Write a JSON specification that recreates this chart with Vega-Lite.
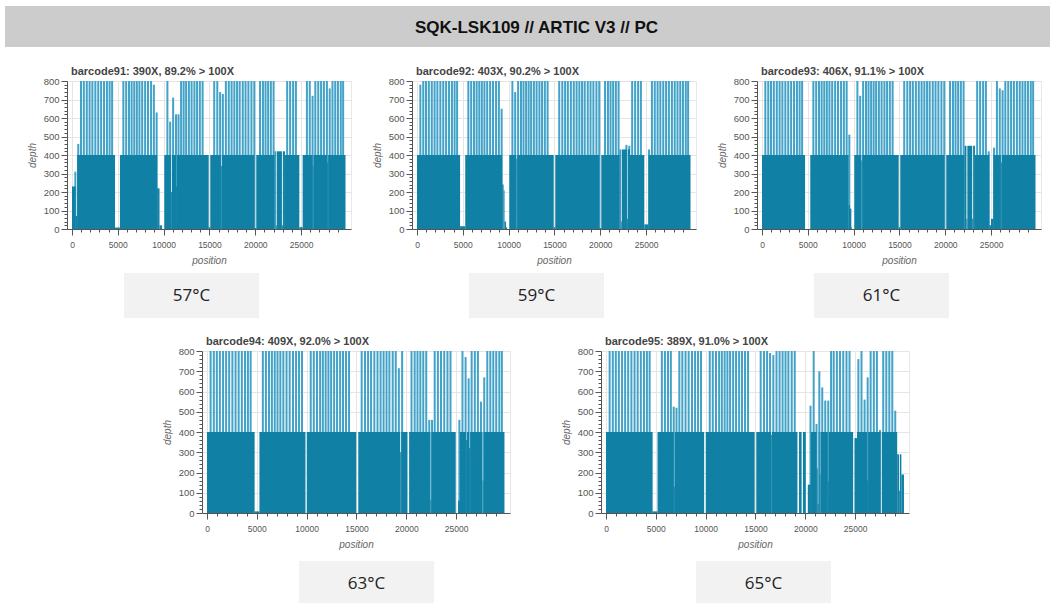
{
  "$schema": "https://vega.github.io/schema/vega-lite/v6.json",
  "padding": {"left": 5, "top": 6, "right": 5, "bottom": 0},
  "background": "white",
  "bounds": "flush",
  "spacing": 0,
  "datasets": {
    "seg": [
      {"p":1,"a":0,"b":400,"d":230},{"p":1,"a":400,"b":560,"d":70},{"p":1,"a":560,"b":4700,"d":400},{"p":1,"a":4700,"b":5230,"d":8},
      {"p":1,"a":5230,"b":9300,"d":400},{"p":1,"a":9300,"b":9550,"d":220},{"p":1,"a":9550,"b":9830,"d":20},{"p":1,"a":10070,"b":10800,"d":400},
      {"p":1,"a":10800,"b":10900,"d":200},{"p":1,"a":10900,"b":11360,"d":400},{"p":1,"a":11360,"b":11460,"d":230},{"p":1,"a":11460,"b":14920,"d":400},
      {"p":1,"a":14920,"b":15090,"d":10},{"p":1,"a":15090,"b":16250,"d":400},{"p":1,"a":16250,"b":16350,"d":340},{"p":1,"a":16350,"b":19900,"d":400},
      {"p":1,"a":19900,"b":20110,"d":5},{"p":1,"a":20110,"b":22110,"d":400},{"p":1,"a":22110,"b":22240,"d":420},{"p":1,"a":22240,"b":22340,"d":20},
      {"p":1,"a":22340,"b":22910,"d":420},{"p":1,"a":22910,"b":23010,"d":20},{"p":1,"a":23010,"b":23240,"d":420},{"p":1,"a":23240,"b":24810,"d":400},
      {"p":1,"a":24810,"b":25170,"d":10},{"p":1,"a":25170,"b":26250,"d":400},{"p":1,"a":26250,"b":26350,"d":340},{"p":1,"a":26350,"b":27850,"d":400},
      {"p":1,"a":27850,"b":27950,"d":360},{"p":1,"a":27950,"b":29850,"d":400},

      {"p":2,"a":0,"b":4700,"d":400},{"p":2,"a":4700,"b":5265,"d":15},{"p":2,"a":5265,"b":9300,"d":400},{"p":2,"a":9300,"b":9450,"d":240},
      {"p":2,"a":9450,"b":9550,"d":210},{"p":2,"a":9550,"b":9720,"d":40},{"p":2,"a":9720,"b":9830,"d":10},{"p":2,"a":10070,"b":10840,"d":400},
      {"p":2,"a":10840,"b":10940,"d":380},{"p":2,"a":10940,"b":14920,"d":400},{"p":2,"a":14920,"b":15090,"d":10},{"p":2,"a":15090,"b":19900,"d":400},
      {"p":2,"a":19900,"b":20110,"d":5},{"p":2,"a":20110,"b":22110,"d":400},{"p":2,"a":22110,"b":22240,"d":430},{"p":2,"a":22240,"b":22340,"d":40},
      {"p":2,"a":22340,"b":22910,"d":430},{"p":2,"a":22910,"b":23010,"d":55},{"p":2,"a":23010,"b":23240,"d":430},{"p":2,"a":23240,"b":24810,"d":400},
      {"p":2,"a":24810,"b":25270,"d":25},{"p":2,"a":25270,"b":29850,"d":400},

      {"p":3,"a":0,"b":4700,"d":400},{"p":3,"a":5265,"b":9450,"d":400},{"p":3,"a":9450,"b":9600,"d":130},{"p":3,"a":9600,"b":9750,"d":110},
      {"p":3,"a":9750,"b":9830,"d":10},{"p":3,"a":10070,"b":10840,"d":400},{"p":3,"a":10840,"b":10940,"d":370},{"p":3,"a":10940,"b":14920,"d":400},
      {"p":3,"a":14920,"b":15090,"d":10},{"p":3,"a":15090,"b":19900,"d":400},{"p":3,"a":20110,"b":22110,"d":400},{"p":3,"a":22110,"b":22310,"d":450},
      {"p":3,"a":22310,"b":22410,"d":55},{"p":3,"a":22410,"b":22940,"d":450},{"p":3,"a":22940,"b":23040,"d":55},{"p":3,"a":23040,"b":23240,"d":450},
      {"p":3,"a":23240,"b":24810,"d":400},{"p":3,"a":24810,"b":24990,"d":20},{"p":3,"a":24990,"b":25250,"d":55},{"p":3,"a":25250,"b":26070,"d":400},
      {"p":3,"a":26070,"b":26170,"d":360},{"p":3,"a":26170,"b":29850,"d":400},

      {"p":4,"a":0,"b":4780,"d":400},{"p":4,"a":4780,"b":5260,"d":8},{"p":4,"a":5260,"b":9880,"d":400},{"p":4,"a":10010,"b":14980,"d":400},
      {"p":4,"a":15180,"b":19390,"d":400},{"p":4,"a":19390,"b":19490,"d":300},{"p":4,"a":19490,"b":20120,"d":400},{"p":4,"a":20280,"b":22420,"d":400},
      {"p":4,"a":22420,"b":22520,"d":65},{"p":4,"a":22520,"b":24960,"d":400},{"p":4,"a":25190,"b":25380,"d":60},{"p":4,"a":25380,"b":25980,"d":400},
      {"p":4,"a":25980,"b":26080,"d":360},{"p":4,"a":26080,"b":26300,"d":400},{"p":4,"a":26300,"b":26400,"d":320},{"p":4,"a":26400,"b":27650,"d":400},
      {"p":4,"a":27650,"b":27750,"d":160},{"p":4,"a":27750,"b":29850,"d":400},

      {"p":5,"a":0,"b":4680,"d":400},{"p":5,"a":4680,"b":5170,"d":8},{"p":5,"a":5170,"b":6800,"d":400},{"p":5,"a":6800,"b":6900,"d":130},
      {"p":5,"a":6900,"b":9850,"d":400},{"p":5,"a":10010,"b":14920,"d":400},{"p":5,"a":15080,"b":16560,"d":400},{"p":5,"a":16560,"b":16640,"d":385},
      {"p":5,"a":16640,"b":19210,"d":400},{"p":5,"a":19370,"b":19630,"d":400},{"p":5,"a":19760,"b":20050,"d":400},{"p":5,"a":20250,"b":20550,"d":140},
      {"p":5,"a":20550,"b":21140,"d":400},{"p":5,"a":21140,"b":21240,"d":220},{"p":5,"a":21240,"b":21340,"d":45},{"p":5,"a":21340,"b":21420,"d":400},
      {"p":5,"a":21420,"b":21520,"d":190},{"p":5,"a":21520,"b":22260,"d":400},{"p":5,"a":22260,"b":22360,"d":155},{"p":5,"a":22360,"b":24800,"d":400},
      {"p":5,"a":24930,"b":25190,"d":370},{"p":5,"a":25190,"b":26200,"d":400},{"p":5,"a":26200,"b":26300,"d":160},{"p":5,"a":26300,"b":27540,"d":400},
      {"p":5,"a":27670,"b":29220,"d":400},{"p":5,"a":29220,"b":29420,"d":290},{"p":5,"a":29420,"b":29500,"d":110},{"p":5,"a":29500,"b":29640,"d":290},
      {"p":5,"a":29640,"b":29900,"d":190}
    ],
    "spk": [
      {"x":365,"s1":310,"s2":780,"s3":800,"s4":800,"s5":800},
      {"x":684,"s1":460,"s2":800,"s3":800,"s4":800,"s5":800},
      {"x":985,"s1":800,"s2":800,"s3":800,"s4":800,"s5":800},
      {"x":1290,"s1":800,"s2":800,"s3":800,"s4":800,"s5":800},
      {"x":1612,"s1":800,"s2":800,"s3":800,"s4":800,"s5":800},
      {"x":1920,"s1":800,"s2":800,"s3":800,"s4":800,"s5":800},
      {"x":2225,"s1":800,"s2":800,"s3":800,"s4":800,"s5":800},
      {"x":2548,"s1":800,"s2":800,"s3":800,"s4":800,"s5":800},
      {"x":2865,"s1":800,"s2":800,"s3":800,"s4":800,"s5":800},
      {"x":3177,"s1":800,"s2":800,"s3":800,"s4":800,"s5":800},
      {"x":3496,"s1":800,"s2":800,"s3":800,"s4":800,"s5":800},
      {"x":3812,"s1":800,"s2":800,"s3":800,"s4":800,"s5":800},
      {"x":4104,"s1":800,"s2":800,"s3":800,"s4":800,"s5":800},
      {"x":4378,"s1":800,"s2":800,"s3":800,"s4":800,"s5":800},
      {"x":4669,"s1":0,"s2":0,"s3":0,"s4":0,"s5":0},
      {"x":4976,"s1":0,"s2":0,"s3":0,"s4":0,"s5":0},
      {"x":5276,"s1":0,"s2":0,"s3":0,"s4":0,"s5":0},
      {"x":5604,"s1":800,"s2":800,"s3":800,"s4":800,"s5":800},
      {"x":5912,"s1":800,"s2":800,"s3":800,"s4":800,"s5":800},
      {"x":6220,"s1":800,"s2":800,"s3":800,"s4":800,"s5":800},
      {"x":6508,"s1":800,"s2":800,"s3":800,"s4":800,"s5":800},
      {"x":6796,"s1":800,"s2":800,"s3":800,"s4":800,"s5":525},
      {"x":7076,"s1":800,"s2":800,"s3":800,"s4":800,"s5":520},
      {"x":7360,"s1":800,"s2":800,"s3":800,"s4":800,"s5":800},
      {"x":7660,"s1":800,"s2":800,"s3":800,"s4":800,"s5":800},
      {"x":7981,"s1":800,"s2":800,"s3":800,"s4":800,"s5":800},
      {"x":8295,"s1":800,"s2":800,"s3":800,"s4":800,"s5":800},
      {"x":8628,"s1":800,"s2":800,"s3":800,"s4":800,"s5":800},
      {"x":8936,"s1":780,"s2":800,"s3":800,"s4":800,"s5":800},
      {"x":9238,"s1":630,"s2":650,"s3":800,"s4":800,"s5":800},
      {"x":9531,"s1":0,"s2":0,"s3":510,"s4":800,"s5":800},
      {"x":9821,"s1":0,"s2":0,"s3":0,"s4":0,"s5":0},
      {"x":10124,"s1":0,"s2":0,"s3":0,"s4":0,"s5":0},
      {"x":10411,"s1":800,"s2":800,"s3":800,"s4":800,"s5":800},
      {"x":10715,"s1":580,"s2":740,"s3":720,"s4":800,"s5":800},
      {"x":11037,"s1":710,"s2":800,"s3":800,"s4":800,"s5":800},
      {"x":11350,"s1":620,"s2":800,"s3":800,"s4":800,"s5":800},
      {"x":11624,"s1":620,"s2":800,"s3":800,"s4":800,"s5":800},
      {"x":11906,"s1":800,"s2":800,"s3":800,"s4":800,"s5":800},
      {"x":12183,"s1":800,"s2":800,"s3":800,"s4":800,"s5":800},
      {"x":12454,"s1":800,"s2":800,"s3":800,"s4":800,"s5":800},
      {"x":12756,"s1":800,"s2":800,"s3":800,"s4":800,"s5":800},
      {"x":13051,"s1":800,"s2":800,"s3":800,"s4":800,"s5":800},
      {"x":13360,"s1":800,"s2":800,"s3":800,"s4":800,"s5":800},
      {"x":13649,"s1":800,"s2":800,"s3":800,"s4":800,"s5":800},
      {"x":13951,"s1":800,"s2":800,"s3":800,"s4":800,"s5":800},
      {"x":14253,"s1":800,"s2":800,"s3":800,"s4":800,"s5":800},
      {"x":14573,"s1":0,"s2":0,"s3":0,"s4":0,"s5":0},
      {"x":14896,"s1":0,"s2":0,"s3":0,"s4":0,"s5":0},
      {"x":15209,"s1":0,"s2":0,"s3":0,"s4":0,"s5":0},
      {"x":15521,"s1":800,"s2":800,"s3":800,"s4":800,"s5":800},
      {"x":15857,"s1":800,"s2":800,"s3":800,"s4":800,"s5":800},
      {"x":16164,"s1":740,"s2":800,"s3":800,"s4":800,"s5":800},
      {"x":16463,"s1":730,"s2":800,"s3":800,"s4":800,"s5":790},
      {"x":16791,"s1":800,"s2":800,"s3":800,"s4":800,"s5":780},
      {"x":17109,"s1":800,"s2":800,"s3":800,"s4":800,"s5":800},
      {"x":17417,"s1":800,"s2":800,"s3":800,"s4":800,"s5":800},
      {"x":17718,"s1":800,"s2":800,"s3":800,"s4":800,"s5":800},
      {"x":18014,"s1":800,"s2":800,"s3":800,"s4":800,"s5":800},
      {"x":18301,"s1":800,"s2":800,"s3":800,"s4":800,"s5":800},
      {"x":18634,"s1":800,"s2":800,"s3":800,"s4":800,"s5":800},
      {"x":18938,"s1":800,"s2":800,"s3":800,"s4":800,"s5":800},
      {"x":19251,"s1":800,"s2":800,"s3":800,"s4":715,"s5":0},
      {"x":19582,"s1":800,"s2":800,"s3":800,"s4":800,"s5":0},
      {"x":19892,"s1":800,"s2":800,"s3":800,"s4":0,"s5":0},
      {"x":20214,"s1":0,"s2":0,"s3":0,"s4":0,"s5":0},
      {"x":20522,"s1":800,"s2":800,"s3":800,"s4":800,"s5":530},
      {"x":20838,"s1":800,"s2":800,"s3":800,"s4":800,"s5":800},
      {"x":21122,"s1":800,"s2":800,"s3":800,"s4":800,"s5":440},
      {"x":21406,"s1":800,"s2":800,"s3":800,"s4":800,"s5":700},
      {"x":21701,"s1":800,"s2":800,"s3":800,"s4":800,"s5":620},
      {"x":22000,"s1":800,"s2":800,"s3":800,"s4":800,"s5":555},
      {"x":22304,"s1":0,"s2":0,"s3":0,"s4":460,"s5":555},
      {"x":22583,"s1":0,"s2":0,"s3":0,"s4":460,"s5":800},
      {"x":22850,"s1":0,"s2":455,"s3":0,"s4":800,"s5":800},
      {"x":23168,"s1":0,"s2":450,"s3":0,"s4":800,"s5":800},
      {"x":23483,"s1":800,"s2":800,"s3":800,"s4":800,"s5":800},
      {"x":23806,"s1":800,"s2":800,"s3":800,"s4":800,"s5":800},
      {"x":24131,"s1":800,"s2":800,"s3":800,"s4":800,"s5":800},
      {"x":24435,"s1":800,"s2":800,"s3":800,"s4":800,"s5":800},
      {"x":24743,"s1":0,"s2":0,"s3":420,"s4":0,"s5":0},
      {"x":25027,"s1":0,"s2":0,"s3":0,"s4":0,"s5":0},
      {"x":25324,"s1":0,"s2":430,"s3":440,"s4":460,"s5":760},
      {"x":25637,"s1":800,"s2":800,"s3":800,"s4":800,"s5":800},
      {"x":25948,"s1":800,"s2":800,"s3":760,"s4":770,"s5":560},
      {"x":26256,"s1":720,"s2":800,"s3":750,"s4":665,"s5":670},
      {"x":26555,"s1":800,"s2":800,"s3":800,"s4":800,"s5":800},
      {"x":26874,"s1":800,"s2":800,"s3":800,"s4":800,"s5":800},
      {"x":27184,"s1":800,"s2":800,"s3":800,"s4":800,"s5":800},
      {"x":27491,"s1":800,"s2":800,"s3":800,"s4":550,"s5":410},
      {"x":27819,"s1":800,"s2":800,"s3":800,"s4":670,"s5":800},
      {"x":28127,"s1":760,"s2":800,"s3":800,"s4":800,"s5":800},
      {"x":28429,"s1":800,"s2":800,"s3":800,"s4":800,"s5":800},
      {"x":28728,"s1":800,"s2":800,"s3":800,"s4":800,"s5":800},
      {"x":29024,"s1":800,"s2":800,"s3":800,"s4":800,"s5":505},
      {"x":29333,"s1":800,"s2":800,"s3":800,"s4":800,"s5":0},
      {"x":29590,"s1":800,"s2":800,"s3":800,"s4":800,"s5":0}
    ]
  },
  "vconcat": [
    {
      "width": 1045, "height": 41,
      "view": {"fill": "#cccccc", "stroke": null},
      "data": {"values": [{"t": "SQK-LSK109 // ARTIC V3 // PC"}]},
      "mark": {"type": "text", "font": "Liberation Sans", "fontWeight": "bold", "fontSize": 17, "color": "#111", "dx": 9, "dy": 1},
      "encoding": {"text": {"field": "t", "type": "nominal"}}
    },
    {"width": 1, "height": 34, "view": {"stroke": null}, "data": {"values": []}, "mark": {"type": "point"}},
    {
      "bounds": "flush", "spacing": 0,
      "hconcat": [
        {"width": 62, "height": 1, "view": {"stroke": null}, "data": {"values": []}, "mark": {"type": "point"}},
        {
          "width": 284, "height": 148,
          "title": {"text": "barcode91: 390X, 89.2% > 100X"},
          "layer": [
            {"data": {"name": "spk"}, "transform": [{"fold": ["s1","s2","s3","s4","s5"], "as": ["k","d"]}, {"filter": {"field": "k", "equal": "s1"}}],
             "mark": {"type": "bar", "width": 2, "color": "#42a2c7", "clip": true},
             "encoding": {
               "x": {"field": "x", "type": "quantitative", "scale": {"domain": [0, 29903], "nice": false, "zero": false},
                     "axis": {"orient": "bottom", "values": [0,5000,10000,15000,20000,25000], "format": "d", "grid": false, "zindex": 1, "title": "position", "tickSize": 6, "labelPadding": 5, "titlePadding": 7}},
               "y": {"field": "d", "type": "quantitative", "scale": {"domain": [0, 800], "nice": false},
                     "axis": {"orient": "left", "values": [0,100,200,300,400,500,600,700,800], "grid": false, "zindex": 1, "title": "depth", "tickSize": 6, "labelPadding": 2, "labelFontSize": 9.5, "titlePadding": 6}}}},
            {"data": {"name": "seg"}, "transform": [{"filter": {"field": "p", "equal": 1}}],
             "mark": {"type": "bar", "color": "#1080a5"},
             "encoding": {
               "x": {"field": "a", "type": "quantitative", "scale": {"domain": [0, 29903], "nice": false, "zero": false},
                     "axis": {"orient": "bottom", "values": [0,5000,10000,15000,20000,25000], "grid": true, "labels": false, "ticks": false, "domain": false, "title": null, "zindex": 0}},
               "x2": {"field": "b"},
               "y": {"field": "d", "type": "quantitative", "scale": {"domain": [0, 800], "nice": false},
                     "axis": {"orient": "left", "values": [0,100,200,300,400,500,600,700,800], "grid": true, "labels": false, "ticks": false, "domain": false, "title": null, "zindex": 0}},
               "y2": {"datum": 0}}},
            {"data": {"name": "seg"}, "transform": [{"filter": {"field": "p", "equal": 1}}],
             "mark": {"type": "point", "opacity": 0},
             "encoding": {
               "x": {"field": "a", "type": "quantitative", "scale": {"domain": [0, 29903], "nice": false, "zero": false},
                     "axis": {"orient": "bottom", "values": [1000,2000,3000,4000,6000,7000,8000,9000,11000,12000,13000,14000,16000,17000,18000,19000,21000,22000,23000,24000,26000,27000,28000,29000], "grid": false, "labels": false, "domain": false, "title": null, "tickSize": 3, "zindex": 1}},
               "y": {"field": "d", "type": "quantitative", "scale": {"domain": [0, 800], "nice": false},
                     "axis": {"orient": "left", "values": [20,40,60,80,120,140,160,180,220,240,260,280,320,340,360,380,420,440,460,480,520,540,560,580,620,640,660,680,720,740,760,780], "grid": false, "labels": false, "domain": false, "title": null, "tickSize": 3, "zindex": 1}}}}
          ],
          "resolve": {"axis": {"x": "independent", "y": "independent"}}
        },
        {"width": 61, "height": 1, "view": {"stroke": null}, "data": {"values": []}, "mark": {"type": "point"}},
        {
          "width": 284, "height": 148,
          "title": {"text": "barcode92: 403X, 90.2% > 100X"},
          "layer": [
            {"data": {"name": "spk"}, "transform": [{"fold": ["s1","s2","s3","s4","s5"], "as": ["k","d"]}, {"filter": {"field": "k", "equal": "s2"}}],
             "mark": {"type": "bar", "width": 2, "color": "#42a2c7", "clip": true},
             "encoding": {
               "x": {"field": "x", "type": "quantitative", "scale": {"domain": [0, 29903], "nice": false, "zero": false},
                     "axis": {"orient": "bottom", "values": [0,5000,10000,15000,20000,25000], "format": "d", "grid": false, "zindex": 1, "title": "position", "tickSize": 6, "labelPadding": 5, "titlePadding": 7}},
               "y": {"field": "d", "type": "quantitative", "scale": {"domain": [0, 800], "nice": false},
                     "axis": {"orient": "left", "values": [0,100,200,300,400,500,600,700,800], "grid": false, "zindex": 1, "title": "depth", "tickSize": 6, "labelPadding": 2, "labelFontSize": 9.5, "titlePadding": 6}}}},
            {"data": {"name": "seg"}, "transform": [{"filter": {"field": "p", "equal": 2}}],
             "mark": {"type": "bar", "color": "#1080a5"},
             "encoding": {
               "x": {"field": "a", "type": "quantitative", "scale": {"domain": [0, 29903], "nice": false, "zero": false},
                     "axis": {"orient": "bottom", "values": [0,5000,10000,15000,20000,25000], "grid": true, "labels": false, "ticks": false, "domain": false, "title": null, "zindex": 0}},
               "x2": {"field": "b"},
               "y": {"field": "d", "type": "quantitative", "scale": {"domain": [0, 800], "nice": false},
                     "axis": {"orient": "left", "values": [0,100,200,300,400,500,600,700,800], "grid": true, "labels": false, "ticks": false, "domain": false, "title": null, "zindex": 0}},
               "y2": {"datum": 0}}},
            {"data": {"name": "seg"}, "transform": [{"filter": {"field": "p", "equal": 2}}],
             "mark": {"type": "point", "opacity": 0},
             "encoding": {
               "x": {"field": "a", "type": "quantitative", "scale": {"domain": [0, 29903], "nice": false, "zero": false},
                     "axis": {"orient": "bottom", "values": [1000,2000,3000,4000,6000,7000,8000,9000,11000,12000,13000,14000,16000,17000,18000,19000,21000,22000,23000,24000,26000,27000,28000,29000], "grid": false, "labels": false, "domain": false, "title": null, "tickSize": 3, "zindex": 1}},
               "y": {"field": "d", "type": "quantitative", "scale": {"domain": [0, 800], "nice": false},
                     "axis": {"orient": "left", "values": [20,40,60,80,120,140,160,180,220,240,260,280,320,340,360,380,420,440,460,480,520,540,560,580,620,640,660,680,720,740,760,780], "grid": false, "labels": false, "domain": false, "title": null, "tickSize": 3, "zindex": 1}}}}
          ],
          "resolve": {"axis": {"x": "independent", "y": "independent"}}
        },
        {"width": 61, "height": 1, "view": {"stroke": null}, "data": {"values": []}, "mark": {"type": "point"}},
        {
          "width": 284, "height": 148,
          "title": {"text": "barcode93: 406X, 91.1% > 100X"},
          "layer": [
            {"data": {"name": "spk"}, "transform": [{"fold": ["s1","s2","s3","s4","s5"], "as": ["k","d"]}, {"filter": {"field": "k", "equal": "s3"}}],
             "mark": {"type": "bar", "width": 2, "color": "#42a2c7", "clip": true},
             "encoding": {
               "x": {"field": "x", "type": "quantitative", "scale": {"domain": [0, 29903], "nice": false, "zero": false},
                     "axis": {"orient": "bottom", "values": [0,5000,10000,15000,20000,25000], "format": "d", "grid": false, "zindex": 1, "title": "position", "tickSize": 6, "labelPadding": 5, "titlePadding": 7}},
               "y": {"field": "d", "type": "quantitative", "scale": {"domain": [0, 800], "nice": false},
                     "axis": {"orient": "left", "values": [0,100,200,300,400,500,600,700,800], "grid": false, "zindex": 1, "title": "depth", "tickSize": 6, "labelPadding": 2, "labelFontSize": 9.5, "titlePadding": 6}}}},
            {"data": {"name": "seg"}, "transform": [{"filter": {"field": "p", "equal": 3}}],
             "mark": {"type": "bar", "color": "#1080a5"},
             "encoding": {
               "x": {"field": "a", "type": "quantitative", "scale": {"domain": [0, 29903], "nice": false, "zero": false},
                     "axis": {"orient": "bottom", "values": [0,5000,10000,15000,20000,25000], "grid": true, "labels": false, "ticks": false, "domain": false, "title": null, "zindex": 0}},
               "x2": {"field": "b"},
               "y": {"field": "d", "type": "quantitative", "scale": {"domain": [0, 800], "nice": false},
                     "axis": {"orient": "left", "values": [0,100,200,300,400,500,600,700,800], "grid": true, "labels": false, "ticks": false, "domain": false, "title": null, "zindex": 0}},
               "y2": {"datum": 0}}},
            {"data": {"name": "seg"}, "transform": [{"filter": {"field": "p", "equal": 3}}],
             "mark": {"type": "point", "opacity": 0},
             "encoding": {
               "x": {"field": "a", "type": "quantitative", "scale": {"domain": [0, 29903], "nice": false, "zero": false},
                     "axis": {"orient": "bottom", "values": [1000,2000,3000,4000,6000,7000,8000,9000,11000,12000,13000,14000,16000,17000,18000,19000,21000,22000,23000,24000,26000,27000,28000,29000], "grid": false, "labels": false, "domain": false, "title": null, "tickSize": 3, "zindex": 1}},
               "y": {"field": "d", "type": "quantitative", "scale": {"domain": [0, 800], "nice": false},
                     "axis": {"orient": "left", "values": [20,40,60,80,120,140,160,180,220,240,260,280,320,340,360,380,420,440,460,480,520,540,560,580,620,640,660,680,720,740,760,780], "grid": false, "labels": false, "domain": false, "title": null, "tickSize": 3, "zindex": 1}}}}
          ],
          "resolve": {"axis": {"x": "independent", "y": "independent"}}
        }
      ]
    },
    {"width": 1, "height": 192, "view": {"stroke": null}, "data": {"values": []}, "mark": {"type": "point"}},
    {
      "bounds": "flush", "spacing": 0,
      "hconcat": [
        {"width": 119, "height": 1, "view": {"stroke": null}, "data": {"values": []}, "mark": {"type": "point"}},
        {"width": 135, "height": 45, "view": {"fill": "#f2f2f2", "stroke": null}, "data": {"values": [{"t": "57°C"}]},
         "mark": {"type": "text", "font": "Open Sans", "fontSize": 17, "color": "#222"}, "encoding": {"text": {"field": "t", "type": "nominal"}}},
        {"width": 210, "height": 1, "view": {"stroke": null}, "data": {"values": []}, "mark": {"type": "point"}},
        {"width": 135, "height": 45, "view": {"fill": "#f2f2f2", "stroke": null}, "data": {"values": [{"t": "59°C"}]},
         "mark": {"type": "text", "font": "Open Sans", "fontSize": 17, "color": "#222"}, "encoding": {"text": {"field": "t", "type": "nominal"}}},
        {"width": 210, "height": 1, "view": {"stroke": null}, "data": {"values": []}, "mark": {"type": "point"}},
        {"width": 135, "height": 45, "view": {"fill": "#f2f2f2", "stroke": null}, "data": {"values": [{"t": "61°C"}]},
         "mark": {"type": "text", "font": "Open Sans", "fontSize": 17, "color": "#222"}, "encoding": {"text": {"field": "t", "type": "nominal"}}}
      ]
    },
    {"width": 1, "height": 78, "view": {"stroke": null}, "data": {"values": []}, "mark": {"type": "point"}},
    {
      "bounds": "flush", "spacing": 0,
      "hconcat": [
        {"width": 197, "height": 1, "view": {"stroke": null}, "data": {"values": []}, "mark": {"type": "point"}},
        {
          "width": 308, "height": 162,
          "title": {"text": "barcode94: 409X, 92.0% > 100X"},
          "layer": [
            {"data": {"name": "spk"}, "transform": [{"fold": ["s1","s2","s3","s4","s5"], "as": ["k","d"]}, {"filter": {"field": "k", "equal": "s4"}}],
             "mark": {"type": "bar", "width": 2, "color": "#42a2c7", "clip": true},
             "encoding": {
               "x": {"field": "x", "type": "quantitative", "scale": {"domain": [0, 29903], "nice": false, "zero": false},
                     "axis": {"orient": "bottom", "values": [0,5000,10000,15000,20000,25000], "format": "d", "grid": false, "zindex": 1, "title": "position", "tickSize": 6, "labelPadding": 5, "titlePadding": 7}},
               "y": {"field": "d", "type": "quantitative", "scale": {"domain": [0, 800], "nice": false},
                     "axis": {"orient": "left", "values": [0,100,200,300,400,500,600,700,800], "grid": false, "zindex": 1, "title": "depth", "tickSize": 6, "labelPadding": 2, "labelFontSize": 9.5, "titlePadding": 6}}}},
            {"data": {"name": "seg"}, "transform": [{"filter": {"field": "p", "equal": 4}}],
             "mark": {"type": "bar", "color": "#1080a5"},
             "encoding": {
               "x": {"field": "a", "type": "quantitative", "scale": {"domain": [0, 29903], "nice": false, "zero": false},
                     "axis": {"orient": "bottom", "values": [0,5000,10000,15000,20000,25000], "grid": true, "labels": false, "ticks": false, "domain": false, "title": null, "zindex": 0}},
               "x2": {"field": "b"},
               "y": {"field": "d", "type": "quantitative", "scale": {"domain": [0, 800], "nice": false},
                     "axis": {"orient": "left", "values": [0,100,200,300,400,500,600,700,800], "grid": true, "labels": false, "ticks": false, "domain": false, "title": null, "zindex": 0}},
               "y2": {"datum": 0}}},
            {"data": {"name": "seg"}, "transform": [{"filter": {"field": "p", "equal": 4}}],
             "mark": {"type": "point", "opacity": 0},
             "encoding": {
               "x": {"field": "a", "type": "quantitative", "scale": {"domain": [0, 29903], "nice": false, "zero": false},
                     "axis": {"orient": "bottom", "values": [1000,2000,3000,4000,6000,7000,8000,9000,11000,12000,13000,14000,16000,17000,18000,19000,21000,22000,23000,24000,26000,27000,28000,29000], "grid": false, "labels": false, "domain": false, "title": null, "tickSize": 3, "zindex": 1}},
               "y": {"field": "d", "type": "quantitative", "scale": {"domain": [0, 800], "nice": false},
                     "axis": {"orient": "left", "values": [20,40,60,80,120,140,160,180,220,240,260,280,320,340,360,380,420,440,460,480,520,540,560,580,620,640,660,680,720,740,760,780], "grid": false, "labels": false, "domain": false, "title": null, "tickSize": 3, "zindex": 1}}}}
          ],
          "resolve": {"axis": {"x": "independent", "y": "independent"}}
        },
        {"width": 91, "height": 1, "view": {"stroke": null}, "data": {"values": []}, "mark": {"type": "point"}},
        {
          "width": 308, "height": 162,
          "title": {"text": "barcode95: 389X, 91.0% > 100X"},
          "layer": [
            {"data": {"name": "spk"}, "transform": [{"fold": ["s1","s2","s3","s4","s5"], "as": ["k","d"]}, {"filter": {"field": "k", "equal": "s5"}}],
             "mark": {"type": "bar", "width": 2, "color": "#42a2c7", "clip": true},
             "encoding": {
               "x": {"field": "x", "type": "quantitative", "scale": {"domain": [0, 29903], "nice": false, "zero": false},
                     "axis": {"orient": "bottom", "values": [0,5000,10000,15000,20000,25000], "format": "d", "grid": false, "zindex": 1, "title": "position", "tickSize": 6, "labelPadding": 5, "titlePadding": 7}},
               "y": {"field": "d", "type": "quantitative", "scale": {"domain": [0, 800], "nice": false},
                     "axis": {"orient": "left", "values": [0,100,200,300,400,500,600,700,800], "grid": false, "zindex": 1, "title": "depth", "tickSize": 6, "labelPadding": 2, "labelFontSize": 9.5, "titlePadding": 6}}}},
            {"data": {"name": "seg"}, "transform": [{"filter": {"field": "p", "equal": 5}}],
             "mark": {"type": "bar", "color": "#1080a5"},
             "encoding": {
               "x": {"field": "a", "type": "quantitative", "scale": {"domain": [0, 29903], "nice": false, "zero": false},
                     "axis": {"orient": "bottom", "values": [0,5000,10000,15000,20000,25000], "grid": true, "labels": false, "ticks": false, "domain": false, "title": null, "zindex": 0}},
               "x2": {"field": "b"},
               "y": {"field": "d", "type": "quantitative", "scale": {"domain": [0, 800], "nice": false},
                     "axis": {"orient": "left", "values": [0,100,200,300,400,500,600,700,800], "grid": true, "labels": false, "ticks": false, "domain": false, "title": null, "zindex": 0}},
               "y2": {"datum": 0}}},
            {"data": {"name": "seg"}, "transform": [{"filter": {"field": "p", "equal": 5}}],
             "mark": {"type": "point", "opacity": 0},
             "encoding": {
               "x": {"field": "a", "type": "quantitative", "scale": {"domain": [0, 29903], "nice": false, "zero": false},
                     "axis": {"orient": "bottom", "values": [1000,2000,3000,4000,6000,7000,8000,9000,11000,12000,13000,14000,16000,17000,18000,19000,21000,22000,23000,24000,26000,27000,28000,29000], "grid": false, "labels": false, "domain": false, "title": null, "tickSize": 3, "zindex": 1}},
               "y": {"field": "d", "type": "quantitative", "scale": {"domain": [0, 800], "nice": false},
                     "axis": {"orient": "left", "values": [20,40,60,80,120,140,160,180,220,240,260,280,320,340,360,380,420,440,460,480,520,540,560,580,620,640,660,680,720,740,760,780], "grid": false, "labels": false, "domain": false, "title": null, "tickSize": 3, "zindex": 1}}}}
          ],
          "resolve": {"axis": {"x": "independent", "y": "independent"}}
        }
      ]
    },
    {"width": 1, "height": 210, "view": {"stroke": null}, "data": {"values": []}, "mark": {"type": "point"}},
    {
      "bounds": "flush", "spacing": 0,
      "hconcat": [
        {"width": 294, "height": 1, "view": {"stroke": null}, "data": {"values": []}, "mark": {"type": "point"}},
        {"width": 135, "height": 45, "view": {"fill": "#f2f2f2", "stroke": null}, "data": {"values": [{"t": "63°C"}]},
         "mark": {"type": "text", "font": "Open Sans", "fontSize": 17, "color": "#222"}, "encoding": {"text": {"field": "t", "type": "nominal"}}},
        {"width": 262, "height": 1, "view": {"stroke": null}, "data": {"values": []}, "mark": {"type": "point"}},
        {"width": 135, "height": 45, "view": {"fill": "#f2f2f2", "stroke": null}, "data": {"values": [{"t": "65°C"}]},
         "mark": {"type": "text", "font": "Open Sans", "fontSize": 17, "color": "#222"}, "encoding": {"text": {"field": "t", "type": "nominal"}}}
      ]
    }
  ],
  "config": {
    "view": {"stroke": "#e8e8e8"},
    "axis": {"labelFont": "Liberation Sans", "titleFont": "Liberation Sans", "labelFontSize": 8.5, "titleFontSize": 10, "titleFontStyle": "italic", "titleFontWeight": "normal", "labelColor": "#555", "titleColor": "#666", "domainColor": "#555", "tickColor": "#555", "gridColor": "#e5e5e5", "labelFlush": false},
    "title": {"font": "Liberation Sans", "fontSize": 11, "fontWeight": "bold", "color": "#444", "anchor": "start", "offset": -1, "frame": "group", "dx": 4}
  }
}
